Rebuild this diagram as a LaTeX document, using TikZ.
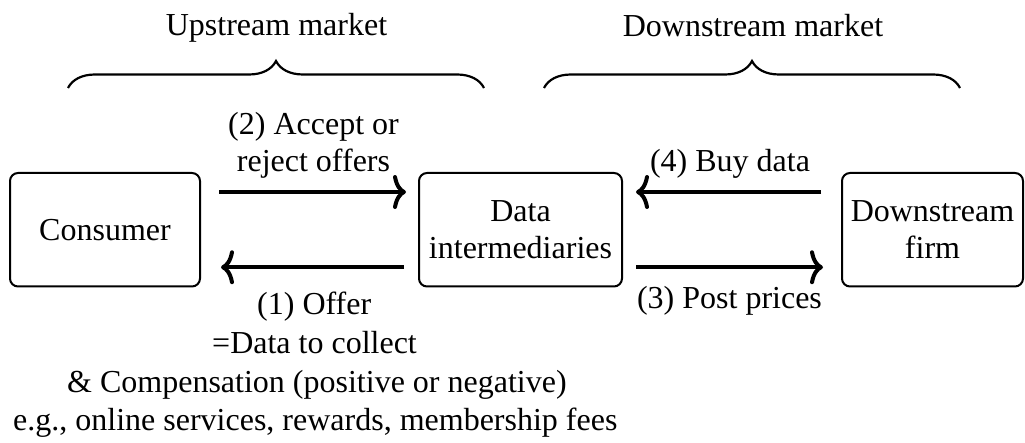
\documentclass[tikz,border=0pt]{standalone}
\usepackage{fontspec}
\setmainfont{Liberation Serif}
\usetikzlibrary{arrows.meta,decorations.pathreplacing}

\tikzset{
  box/.style={draw, line width=2pt, rounded corners=8pt, inner sep=0pt,
              minimum height=113.5pt, align=center},
  arr/.style={line width=4pt, -{Computer Modern Rightarrow[length=13pt,width=34pt]}},
  brace/.style={line width=2.2pt, decorate,
                decoration={brace, amplitude=27pt}},
  lbl/.style={inner sep=0pt, anchor=base},
  lblw/.style={inner sep=0pt, anchor=base west}
}

\begin{document}
\begin{tikzpicture}[x=1pt, y=-1pt, font=\fontsize{32}{37.5}\selectfont]
  \useasboundingbox (0,0) rectangle (1025,443);

  % market braces with their titles
  \coordinate (ub1) at (68,88);
  \coordinate (ub2) at (484,88);
  \coordinate (db1) at (544,88);
  \coordinate (db2) at (960,88);
  \draw[brace] (ub1) -- (ub2);
  \draw[brace] (db1) -- (db2);
  \node[lbl] (upm) at (276.5,36) {Upstream market};
  \node[lbl] (dnm) at (753,37) {Downstream market};

  % the three parties
  \node[box, minimum width=190pt] (cons) at (105,229.75) {Consumer};
  \node[box, minimum width=203pt] (di) at (520.5,229.75) {Data\\intermediaries};
  \node[box, minimum width=181pt] (ds) at (932.5,229.75) {Downstream\\firm};

  % flows between consumer and intermediaries
  \draw[arr] ([shift={(18,-37.75)}]cons.east) -- ([shift={(-12,-37.75)}]di.west);
  \draw[arr] ([shift={(-14,37.5)}]di.west) -- ([shift={(20,37.5)}]cons.east);

  % flows between intermediaries and downstream firm
  \draw[arr] ([shift={(-20,-37.75)}]ds.west) -- ([shift={(13,-37.75)}]di.east);
  \draw[arr] ([shift={(13,37.5)}]di.east) -- ([shift={(-18,37.5)}]ds.west);

  % step labels (base anchor of a two-line label sits on its last line)
  \node[lbl, align=center] (acc) at (313.5,172) {(2) Accept or\\reject offers};
  \node[lbl] (buy) at (730,172) {(4) Buy data};
  \node[lbl] (post) at (729.5,309) {(3) Post prices};

  \node[lblw] (off1) at (257,315) {(1) Offer};
  \node[lblw] (off2) at (212,353.5) {=Data to collect};
  \node[lblw] (off3) at (67,392) {\& Compensation (positive or negative)};
  \node[lblw] (off4) at (13,430.5) {e.g., online services, rewards, membership fees};
\end{tikzpicture}
\end{document}
